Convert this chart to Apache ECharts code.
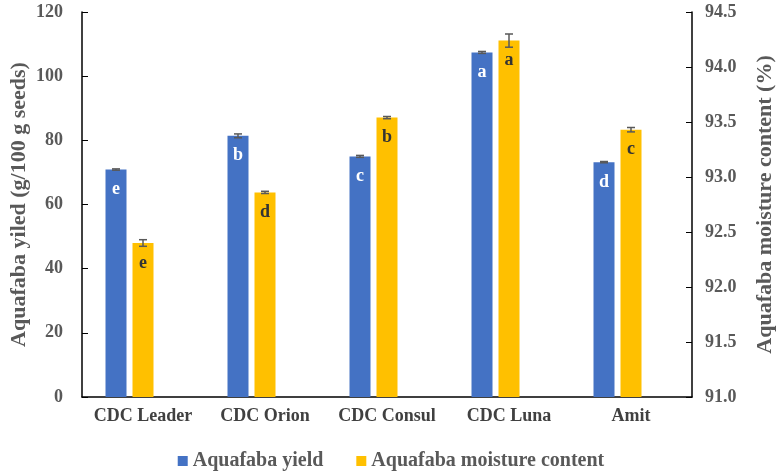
<!DOCTYPE html>
<html>
<head>
<meta charset="utf-8">
<script src="https://cdn.jsdelivr.net/npm/echarts@6/dist/echarts.min.js"></script>
<style>html,body{margin:0;padding:0;background:#fff}#c{width:782px;height:476px}</style>
</head>
<body>
<div id="c"></div>
<script>
const categories = ['CDC Leader', 'CDC Orion', 'CDC Consul', 'CDC Luna', 'Amit'];
const yieldValues = [70.9, 81.4, 75.0, 107.4, 73.2];
const yieldErrors = [0.2, 0.6, 0.3, 0.3, 0.2];
const yieldLetters = ['e', 'b', 'c', 'a', 'd'];
const moistureValues = [92.40, 92.86, 93.54, 94.24, 93.43];
const moistureErrors = [0.03, 0.01, 0.01, 0.06, 0.02];
const moistureLetters = ['e', 'd', 'b', 'a', 'c'];
const leftTicks = [0, 20, 40, 60, 80, 100, 120];
const rightTicks = [91.0, 91.5, 92.0, 92.5, 93.0, 93.5, 94.0, 94.5];

const FONT = 'Liberation Serif';
const BAR_W = 21, BAR_GAP = 6;

function errSeries(vals, errs, yAxisIndex, offset) {
  return {
    type: 'custom', xAxisIndex: 0, yAxisIndex: yAxisIndex, z: 5, silent: true,
    data: vals.map((v, i) => [i, v - errs[i], v + errs[i]]),
    renderItem: function (params, api) {
      const i = api.value(0);
      const lo = api.coord([i, api.value(1)]);
      const hi = api.coord([i, api.value(2)]);
      const x = lo[0] + offset, cw = 4;
      const st = { stroke: '#595959', lineWidth: 1.5 };
      return { type: 'group', children: [
        { type: 'line', shape: { x1: x, y1: lo[1], x2: x, y2: hi[1] }, style: st },
        { type: 'line', shape: { x1: x - cw, y1: lo[1], x2: x + cw, y2: lo[1] }, style: st },
        { type: 'line', shape: { x1: x - cw, y1: hi[1], x2: x + cw, y2: hi[1] }, style: st }
      ]};
    }
  };
}

const chart = echarts.init(document.getElementById('c'));
chart.setOption({
  animation: false,
  textStyle: { fontFamily: FONT },
  grid: { left: 82, right: 90, top: 12, bottom: 79, containLabel: false, outerBoundsMode: 'none' },
  legend: {
    bottom: 0, left: 'center', icon: 'rect', itemWidth: 10, itemHeight: 10, itemGap: 33,
    data: ['Aquafaba yield', 'Aquafaba moisture content'],
    textStyle: { fontFamily: FONT, fontWeight: 'bold', fontSize: 20, color: '#595959' }
  },
  xAxis: {
    type: 'category', data: categories,
    axisLine: { lineStyle: { color: '#000', width: 1.5 } },
    axisTick: { show: false },
    axisLabel: { interval: 0, fontFamily: FONT, fontWeight: 'bold', fontSize: 18, color: '#404040', margin: 10 }
  },
  yAxis: [
    {
      type: 'value', min: 0, max: 120, interval: 20,
      name: 'Aquafaba yiled (g/100 g seeds)', nameLocation: 'middle', nameGap: 52, nameMoveOverlap: false,
      nameTextStyle: { fontFamily: FONT, fontWeight: 'bold', fontSize: 22, color: '#595959' },
      axisLine: { show: true, lineStyle: { color: '#000', width: 1.5 } },
      axisTick: { show: true, inside: true, length: 6, lineStyle: { color: '#000' } },
      splitLine: { show: false },
      axisLabel: { fontFamily: FONT, fontWeight: 'bold', fontSize: 18, color: '#595959', margin: 19,
        formatter: v => leftTicks.includes(v) ? String(v) : '' }
    },
    {
      type: 'value', min: 91.0, max: 94.5, interval: 0.5,
      name: 'Aquafaba moisture content (%)', nameLocation: 'middle', nameGap: 62, nameRotate: 90, nameMoveOverlap: false,
      nameTextStyle: { fontFamily: FONT, fontWeight: 'bold', fontSize: 22, color: '#595959' },
      axisLine: { show: true, lineStyle: { color: '#000', width: 1.5 } },
      axisTick: { show: true, inside: true, length: 6, lineStyle: { color: '#000' } },
      splitLine: { show: false },
      axisLabel: { fontFamily: FONT, fontWeight: 'bold', fontSize: 18, color: '#595959', margin: 13,
        formatter: v => { const t = rightTicks.find(r => Math.abs(r - v) < 1e-6); return t === undefined ? '' : t.toFixed(1); } }
    }
  ],
  series: [
    {
      name: 'Aquafaba yield', type: 'bar', yAxisIndex: 0, barWidth: BAR_W, barGap: (BAR_GAP / BAR_W * 100) + '%',
      itemStyle: { color: '#4472C4' },
      data: yieldValues,
      label: { show: true, position: 'insideTop', distance: 11, fontFamily: FONT, fontWeight: 'bold', fontSize: 18, color: '#fff',
        formatter: p => yieldLetters[p.dataIndex] }
    },
    {
      name: 'Aquafaba moisture content', type: 'bar', yAxisIndex: 1, barWidth: BAR_W,
      itemStyle: { color: '#FFC000' },
      data: moistureValues,
      label: { show: true, position: 'insideTop', distance: 11, fontFamily: FONT, fontWeight: 'bold', fontSize: 18, color: '#333',
        formatter: p => moistureLetters[p.dataIndex] }
    },
    { name: 'spacer', type: 'bar', yAxisIndex: 0, barWidth: BAR_W, barGap: (BAR_GAP / BAR_W * 100) + '%', data: categories.map(() => null), itemStyle: { color: 'transparent' } },
    errSeries(yieldValues, yieldErrors, 0, -(BAR_W + BAR_GAP)),
    errSeries(moistureValues, moistureErrors, 1, 0)
  ]
});
</script>
</body>
</html>
